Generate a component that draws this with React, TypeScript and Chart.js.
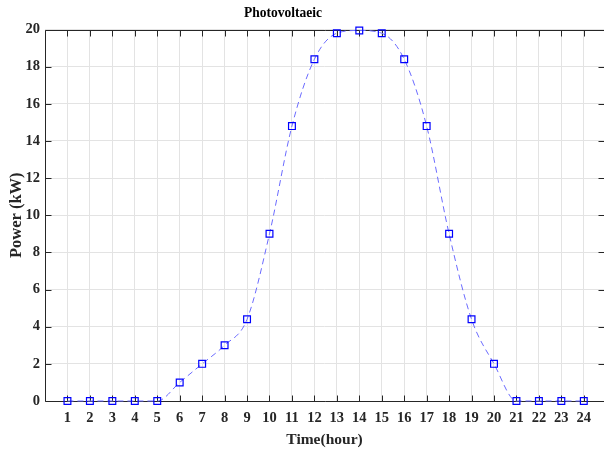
import React, { useEffect, useRef } from "react";
import { Chart, registerables } from "chart.js";

Chart.register(...registerables);

const hours = [1, 2, 3, 4, 5, 6, 7, 8, 9, 10, 11, 12, 13, 14, 15, 16, 17, 18, 19, 20, 21, 22, 23, 24];
const powerKW = [0, 0, 0, 0, 0, 1, 2, 3, 4.4, 9, 14.8, 18.4, 19.8, 19.95, 19.8, 18.4, 14.8, 9, 4.4, 2, 0, 0, 0, 0];
const yTicks = [0, 2, 4, 6, 8, 10, 12, 14, 16, 18, 20];
const chartTitle = "Photovoltaeic";

const FONT = "'Liberation Serif', 'Times New Roman', serif";
const AXIS = "#262626";

const boxPlugin = {
  id: "matlabBox",
  beforeDatasetsDraw(chart: any) {
    const { ctx, chartArea: a, scales } = chart;
    const xs = scales.x;
    const ys = scales.y;
    ctx.save();
    ctx.strokeStyle = AXIS;
    ctx.lineWidth = 1;
    const L = Math.round(a.left) + 0.5;
    const R = Math.round(a.right) + 1.5;
    const T = Math.round(a.top) + 0.5;
    const B = Math.round(a.bottom) + 0.5;
    ctx.beginPath();
    ctx.moveTo(L, T);
    ctx.lineTo(R, T);
    ctx.moveTo(L, T);
    ctx.lineTo(L, B);
    ctx.lineTo(R, B);
    const tl = 6;
    hours.forEach((h) => {
      const px = Math.round(xs.getPixelForValue(h)) + 0.5;
      ctx.moveTo(px, B);
      ctx.lineTo(px, B - tl);
      ctx.moveTo(px, T);
      ctx.lineTo(px, T + tl);
    });
    yTicks.forEach((v) => {
      const py = Math.round(ys.getPixelForValue(v)) + 0.5;
      ctx.moveTo(L, py);
      ctx.lineTo(L + tl, py);
      ctx.moveTo(R, py);
      ctx.lineTo(R - tl - 1, py);
    });
    ctx.stroke();
    // title
    ctx.fillStyle = "#000";
    ctx.font = "bold 15px " + FONT;
    ctx.textAlign = "center";
    ctx.textBaseline = "middle";
    ctx.save();
    ctx.translate(283, 13);
    ctx.scale(0.9, 1);
    ctx.fillText(chartTitle, 0, 0);
    ctx.restore();
    ctx.restore();
  },
};

export default function App() {
  const ref = useRef<HTMLCanvasElement | null>(null);
  useEffect(() => {
    document.body.style.margin = "0";
    document.body.style.overflow = "hidden";
    if (!ref.current) return;
    const chart = new Chart(ref.current, {
      type: "line",
      data: {
        datasets: [
          {
            data: hours.map((h, i) => ({ x: h, y: powerKW[i] })),
            borderColor: "#6b6bff",
            borderWidth: 1,
            borderDash: [6, 4],
            cubicInterpolationMode: "monotone",
            pointStyle: "rect",
            pointRadius: 4.8,
            pointBorderColor: "#0000ff",
            pointBorderWidth: 1.2,
            pointBackgroundColor: "rgba(0,0,0,0)",
            fill: false,
            clip: false as any,
          },
        ],
      },
      plugins: [boxPlugin],
      options: {
        animation: false,
        responsive: false,
        maintainAspectRatio: false,
        layout: { padding: { top: 29.5, left: 0, right: 0, bottom: 0 }, autoPadding: false },
        plugins: {
          legend: { display: false },
          tooltip: { enabled: false },
          title: { display: false },
        },
        scales: {
          x: {
            type: "linear",
            min: 0,
            max: 24.9,
            afterBuildTicks: (s: any) => {
              s.ticks = hours.map((h) => ({ value: h }));
            },
            afterFit: (s: any) => {
              s.height = 52;
              s.paddingLeft = 0;
              s.paddingRight = 0;
            },
            grid: { color: "#e3e3e3", lineWidth: 1, drawTicks: false },
            border: { display: false },
            ticks: {
              color: "#262626",
              padding: 9,
              maxRotation: 0,
              autoSkip: false,
              font: { family: FONT, size: 14.5, weight: "bold" },
              callback: (v: any) => String(v),
            },
            title: {
              display: true,
              text: "Time(hour)",
              color: "#262626",
              font: { family: FONT, size: 15.5, weight: "bold" },
              padding: { top: 0, bottom: 4 },
            },
          },
          y: {
            type: "linear",
            min: 0,
            max: 20,
            afterBuildTicks: (s: any) => {
              s.ticks = yTicks.map((v) => ({ value: v }));
            },
            afterFit: (s: any) => {
              s.width = 45;
              s.paddingTop = 0;
              s.paddingBottom = 0;
            },
            grid: { color: "#e3e3e3", lineWidth: 1, drawTicks: false },
            border: { display: false },
            ticks: {
              color: "#262626",
              padding: 5,
              font: { family: FONT, size: 14.5, weight: "bold" },
            },
            title: {
              display: true,
              text: "Power (kW)",
              color: "#262626",
              font: { family: FONT, size: 16.5, weight: "bold" },
              padding: { top: 7, bottom: 0 },
            },
          },
        },
      },
    } as any);
    return () => chart.destroy();
  }, []);
  return <canvas ref={ref} width={604} height={453} style={{ display: "block" }} />;
}
